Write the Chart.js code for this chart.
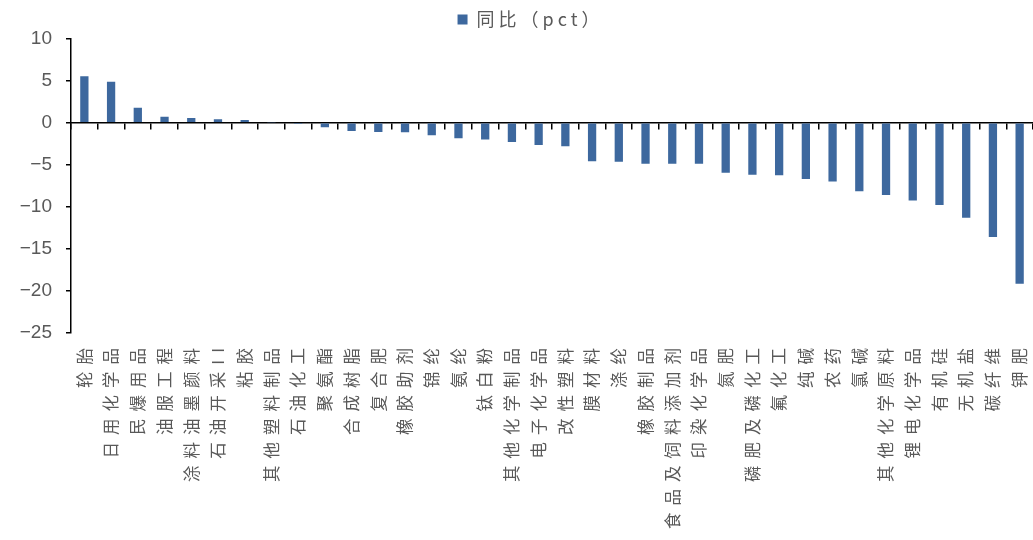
<!DOCTYPE html>
<html>
<head>
<meta charset="utf-8">
<script src="https://cdn.jsdelivr.net/npm/chart.js@4/dist/chart.umd.min.js"></script>
<style>
  html, body { margin: 0; padding: 0; background: #fff; }
  #wrap { width: 1033px; height: 540px; position: relative; }
</style>
</head>
<body>
<div id="wrap"><canvas id="yoyChart"></canvas></div>
<script>
// categories (industries) and YoY change in pct
const industries = ['轮胎','日用化学品','民爆用品','油服工程','涂料油墨颜料','石油开采II','粘胶','其他塑料制品','石油化工','聚氨酯',
  '合成树脂','复合肥','橡胶助剂','锦纶','氨纶','钛白粉','其他化学制品','电子化学品','改性塑料','膜材料',
  '涤纶','橡胶制品','食品及饲料添加剂','印染化学品','氮肥','磷肥及磷化工','氟化工','纯碱','农药','氯碱',
  '其他化学原料','锂电化学品','有机硅','无机盐','碳纤维','钾肥'];
const yoyPct = [5.5, 4.85, 1.77, 0.7, 0.55, 0.4, 0.3, 0.05, -0.05, -0.55,
  -1.0, -1.1, -1.15, -1.5, -1.85, -2.0, -2.3, -2.65, -2.8, -4.6,
  -4.65, -4.9, -4.9, -4.9, -5.95, -6.2, -6.25, -6.7, -7.0, -8.15,
  -8.6, -9.25, -9.8, -11.3, -13.6, -19.15];
const seriesName = '同比（pct）';
const yTicks = [10, 5, 0, -5, -10, -15, -20, -25];

const barColor = '#3D689E';
const textColor = '#595959';

// wrap a draw function so its text gets some letter spacing (Excel-like look)
function spaced(fn, obj, spacing) {
  return function () {
    const ctx = obj.ctx;
    ctx.save();
    ctx.letterSpacing = spacing;
    fn.apply(obj, arguments);
    ctx.restore();
  };
}

const spacingPlugin = {
  id: 'spacing',
  afterLayout(chart) {
    const xs = chart.scales.x;
    if (xs && !xs._spaced) {
      xs.drawLabels = spaced(xs.drawLabels, xs, '7px');
      xs._spaced = true;
    }
    const lg = chart.legend;
    if (lg && !lg._spaced) {
      lg.draw = spaced(lg.draw, lg, '4px');
      lg._spaced = true;
    }
  }
};

const ctx = document.getElementById('yoyChart').getContext('2d');
new Chart(ctx, {
  type: 'bar',
  data: {
    labels: industries,
    datasets: [{
      label: seriesName,
      data: yoyPct,
      backgroundColor: barColor,
      borderWidth: 0,
      barPercentage: 0.31,
      categoryPercentage: 1.0,
      xAxisID: 'x',
      yAxisID: 'y'
    }]
  },
  options: {
    responsive: true,
    maintainAspectRatio: false,
    animation: false,
    layout: { padding: { left: 0, right: 0, top: 0, bottom: 0 } },
    plugins: {
      tooltip: { enabled: false },
      legend: {
        position: 'top',
        labels: {
          boxWidth: 10,
          boxHeight: 10,
          padding: 10.5,
          color: textColor,
          font: { family: '"Noto Sans CJK SC", sans-serif', size: 18 }
        }
      }
    },
    scales: {
      x: {
        type: 'category',
        axis: 'x',
        position: 'bottom',
        grid: { display: false, drawTicks: false },
        border: { display: false },
        ticks: {
          autoSkip: false,
          minRotation: 90,
          maxRotation: 90,
          padding: 8,
          color: textColor,
          font: { family: '"Noto Sans CJK SC", sans-serif', size: 16.5 }
        },
        afterFit(scale) {
          scale.height = 207;
          scale.paddingLeft = 0;
          scale.paddingRight = 0;
        }
      },
      zeroLine: {
        type: 'category',
        axis: 'x',
        position: { y: 0 },
        z: 1,
        grid: {
          display: true,
          offset: true,
          drawOnChartArea: false,
          drawTicks: true,
          tickLength: 6,
          color: '#000',
          lineWidth: 1.5
        },
        border: { display: true, color: '#000', width: 1.5 },
        ticks: { display: false }
      },
      y: {
        axis: 'y',
        min: -25,
        max: 10,
        z: 1,
        afterBuildTicks(scale) { scale.ticks = yTicks.map(v => ({ value: v })); },
        grid: {
          drawOnChartArea: false,
          drawTicks: true,
          tickLength: 5,
          color: '#000',
          lineWidth: 1.5
        },
        border: { display: true, color: '#000', width: 1.5 },
        ticks: {
          padding: 14,
          color: textColor,
          font: { family: '"Liberation Sans", Arial, sans-serif', size: 19 },
          callback: v => String(v).replace('-', '\u2212')
        },
        afterFit(scale) { scale.width = 71; }
      }
    }
  },
  plugins: [spacingPlugin]
});
</script>
</body>
</html>
